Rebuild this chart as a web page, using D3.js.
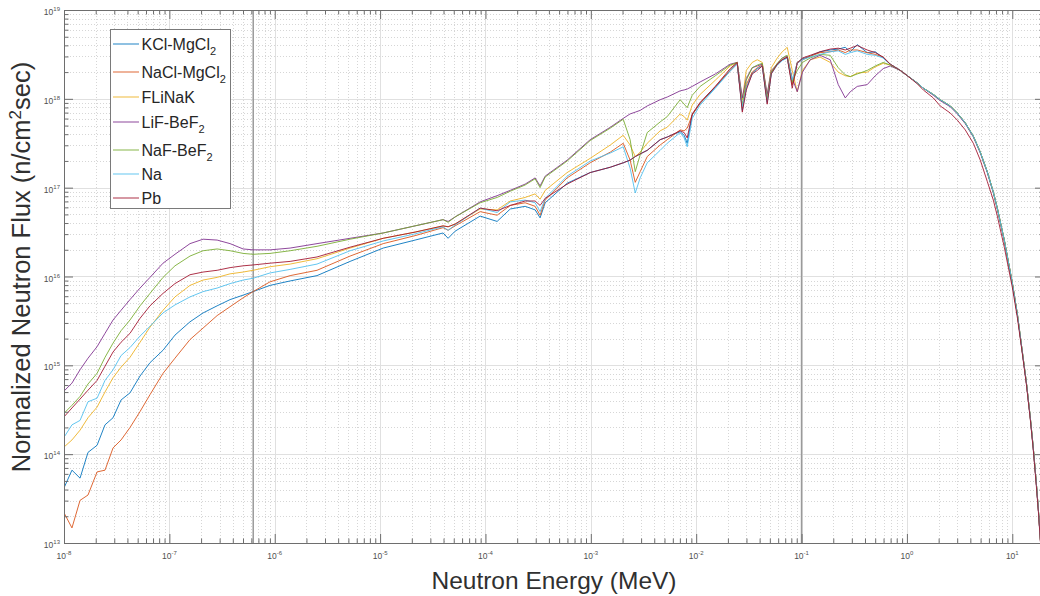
<!DOCTYPE html>
<html><head><meta charset="utf-8">
<script src="https://cdn.jsdelivr.net/npm/d3@7"></script>
<style>body{margin:0;background:#fff}svg{display:block}</style>
</head><body>
<svg id="chart" width="1040" height="596"></svg>
<script>
// ---------- DATA ----------
// Neutron energy grid, MeV
const energyMeV = [
  1e-8, 1.19e-8, 1.42e-8, 1.69e-8, 2.06e-8, 2.45e-8, 2.92e-8, 3.48e-8, 4.23e-8, 5.27e-8,
  6.55e-8, 8.71e-8, 1.13e-7, 1.57e-7, 2.09e-7, 2.84e-7, 3.77e-7, 5.01e-7, 6.23e-7, 9.03e-7,
  1.40e-6, 2.52e-6, 5.19e-6, 1.07e-5, 2.15e-5, 3.96e-5, 4.42e-5, 5.15e-5, 8.90e-5, 1.29e-4,
  1.72e-4, 2.38e-4, 2.96e-4, 3.30e-4, 3.69e-4, 5.96e-4, 9.86e-4, 1.53e-3, 2.03e-3, 2.36e-3,
  2.64e-3, 2.94e-3, 3.43e-3, 4.55e-3, 5.31e-3, 7.05e-3, 7.69e-3, 8.22e-3, 9.17e-3, 1.09e-2,
  1.52e-2, 2.10e-2, 2.45e-2, 2.74e-2, 2.99e-2, 3.40e-2, 3.80e-2, 4.24e-2, 4.72e-2, 5.16e-2,
  5.88e-2, 6.56e-2, 7.31e-2, 8.16e-2, 9.10e-2, 0.102, 0.121, 0.150, 0.187, 0.223,
  0.260, 0.290, 0.338, 0.420, 0.501, 0.596, 0.695, 0.865, 1.01, 1.25,
  1.43, 1.78, 2.07, 2.58, 3.01, 3.58, 4.27, 4.97, 5.79, 6.61,
  7.21, 8.40, 10.0, 11.2, 12.4, 13.6, 14.8, 15.8, 16.9, 17.7,
  18.5
];
// log10 of normalized flux (n/cm^2 sec) for each material, same order as energyMeV
const fluxExpKCl = [
  13.62, 13.82, 13.73, 14.02, 14.10, 14.33, 14.41, 14.61, 14.69, 14.88,
  15.03, 15.17, 15.34, 15.49, 15.59, 15.67, 15.74, 15.79, 15.83, 15.90,
  15.95, 16.01, 16.17, 16.32, 16.41, 16.49, 16.43, 16.51, 16.68, 16.62,
  16.76, 16.79, 16.75, 16.66, 16.83, 17.05, 17.17, 17.23, 17.28, 17.31,
  17.35, 17.38, 17.42, 17.54, 17.57, 17.63, 17.59, 17.50, 17.82, 17.95,
  18.13, 18.32, 18.40, 17.87, 18.12, 18.29, 18.34, 18.37, 17.96, 18.29,
  18.39, 18.44, 18.46, 18.16, 18.41, 18.45, 18.48, 18.53, 18.55, 18.56,
  18.58, 18.53, 18.61, 18.52, 18.53, 18.46, 18.39, 18.32, 18.26, 18.18,
  18.12, 18.05, 17.99, 17.92, 17.84, 17.73, 17.58, 17.40, 17.18, 16.95,
  16.77, 16.41, 15.93, 15.57, 15.17, 14.81, 14.42, 14.08, 13.68, 13.37,
  13.03
];
const fluxExpNaCl = [
  13.34, 13.17, 13.48, 13.54, 13.80, 13.82, 14.07, 14.16, 14.30, 14.48,
  14.67, 14.91, 15.08, 15.29, 15.42, 15.56, 15.66, 15.76, 15.83, 15.94,
  16.01, 16.07, 16.23, 16.37, 16.46, 16.55, 16.52, 16.57, 16.73, 16.69,
  16.80, 16.83, 16.79, 16.69, 16.86, 17.11, 17.28, 17.40, 17.50, 17.31,
  17.06, 17.18, 17.35, 17.48, 17.54, 17.65, 17.64, 17.67, 17.82, 17.95,
  18.14, 18.32, 18.40, 17.90, 18.16, 18.30, 18.35, 18.38, 17.99, 18.30,
  18.39, 18.44, 18.47, 18.16, 18.41, 18.44, 18.48, 18.52, 18.53, 18.55,
  18.52, 18.55, 18.55, 18.52, 18.50, 18.47, 18.39, 18.32, 18.26, 18.18,
  18.12, 18.05, 17.99, 17.92, 17.84, 17.73, 17.58, 17.40, 17.18, 16.95,
  16.77, 16.41, 15.93, 15.57, 15.17, 14.81, 14.42, 14.08, 13.68, 13.37,
  13.03
];
const fluxExpFLiNaK = [
  14.08, 14.16, 14.27, 14.41, 14.53, 14.70, 14.86, 14.98, 15.09, 15.26,
  15.43, 15.62, 15.77, 15.90, 15.96, 15.99, 16.03, 16.05, 16.07, 16.11,
  16.14, 16.20, 16.32, 16.43, 16.50, 16.57, 16.56, 16.59, 16.76, 16.75,
  16.85, 16.89, 16.93, 16.87, 16.97, 17.17, 17.33, 17.48, 17.59, 17.48,
  17.35, 17.40, 17.50, 17.64, 17.68, 17.83, 17.80, 17.76, 17.93, 18.05,
  18.21, 18.37, 18.41, 17.99, 18.32, 18.41, 18.44, 18.41, 18.03, 18.35,
  18.46, 18.53, 18.58, 18.32, 18.08, 18.32, 18.44, 18.47, 18.41, 18.30,
  18.26, 18.25, 18.29, 18.30, 18.36, 18.40, 18.38, 18.32, 18.26, 18.18,
  18.12, 18.05, 17.99, 17.92, 17.84, 17.73, 17.58, 17.40, 17.18, 16.95,
  16.77, 16.41, 15.93, 15.57, 15.17, 14.81, 14.42, 14.08, 13.68, 13.37,
  13.03
];
const fluxExpLiFBeF = [
  14.71, 14.80, 14.95, 15.08, 15.21, 15.36, 15.51, 15.62, 15.74, 15.87,
  15.99, 16.15, 16.25, 16.37, 16.42, 16.41, 16.37, 16.31, 16.30, 16.30,
  16.32, 16.37, 16.43, 16.49, 16.57, 16.64, 16.62, 16.67, 16.84, 16.91,
  16.97, 17.04, 17.11, 17.02, 17.13, 17.31, 17.54, 17.68, 17.78, 17.83,
  17.85, 17.87, 17.92, 17.99, 18.02, 18.09, 18.10, 18.11, 18.14, 18.19,
  18.28, 18.39, 18.41, 18.01, 18.23, 18.35, 18.37, 18.39, 18.05, 18.32,
  18.39, 18.46, 18.48, 18.23, 18.08, 18.30, 18.44, 18.49, 18.44, 18.16,
  18.01, 18.08, 18.14, 18.16, 18.26, 18.34, 18.37, 18.32, 18.26, 18.18,
  18.12, 18.04, 17.98, 17.91, 17.83, 17.72, 17.57, 17.39, 17.17, 16.94,
  16.76, 16.40, 15.92, 15.56, 15.16, 14.80, 14.41, 14.07, 13.67, 13.36,
  13.02
];
const fluxExpNaFBeF = [
  14.46, 14.55, 14.65, 14.79, 14.91, 15.09, 15.25, 15.39, 15.51, 15.67,
  15.81, 15.99, 16.12, 16.23, 16.29, 16.31, 16.29, 16.26, 16.25, 16.26,
  16.29, 16.34, 16.42, 16.49, 16.57, 16.64, 16.61, 16.67, 16.83, 16.89,
  16.96, 17.03, 17.10, 17.00, 17.12, 17.30, 17.53, 17.67, 17.77, 17.54,
  17.18, 17.37, 17.62, 17.74, 17.80, 17.99, 17.94, 17.90, 18.04, 18.14,
  18.26, 18.38, 18.41, 17.93, 18.21, 18.35, 18.38, 18.40, 17.99, 18.30,
  18.40, 18.46, 18.49, 18.19, 18.32, 18.41, 18.46, 18.50, 18.49, 18.35,
  18.27, 18.25, 18.28, 18.32, 18.37, 18.41, 18.38, 18.32, 18.26, 18.18,
  18.12, 18.05, 17.99, 17.92, 17.84, 17.73, 17.58, 17.40, 17.18, 16.95,
  16.77, 16.41, 15.93, 15.57, 15.17, 14.81, 14.42, 14.08, 13.68, 13.37,
  13.03
];
const fluxExpNa = [
  14.19, 14.33, 14.38, 14.59, 14.63, 14.83, 14.95, 15.11, 15.20, 15.33,
  15.44, 15.59, 15.68, 15.77, 15.83, 15.87, 15.92, 15.96, 15.98, 16.04,
  16.08, 16.14, 16.29, 16.40, 16.48, 16.56, 16.52, 16.58, 16.77, 16.72,
  16.84, 16.86, 16.83, 16.73, 16.88, 17.13, 17.30, 17.39, 17.46, 17.22,
  16.94, 17.11, 17.28, 17.42, 17.50, 17.62, 17.56, 17.46, 17.78, 17.93,
  18.12, 18.31, 18.39, 17.91, 18.12, 18.28, 18.34, 18.37, 17.96, 18.28,
  18.38, 18.43, 18.46, 18.21, 18.40, 18.44, 18.47, 18.50, 18.53, 18.54,
  18.50, 18.52, 18.54, 18.50, 18.49, 18.46, 18.39, 18.32, 18.26, 18.18,
  18.12, 18.05, 17.99, 17.92, 17.84, 17.73, 17.58, 17.40, 17.18, 16.95,
  16.77, 16.41, 15.93, 15.57, 15.17, 14.81, 14.42, 14.08, 13.68, 13.37,
  13.03
];
const fluxExpPb = [
  14.42, 14.52, 14.62, 14.72, 14.83, 14.99, 15.15, 15.26, 15.36, 15.53,
  15.67, 15.81, 15.92, 16.02, 16.05, 16.07, 16.10, 16.12, 16.13, 16.15,
  16.17, 16.22, 16.33, 16.43, 16.50, 16.57, 16.56, 16.59, 16.77, 16.74,
  16.80, 16.85, 16.85, 16.80, 16.88, 17.04, 17.17, 17.23, 17.28, 17.31,
  17.35, 17.38, 17.42, 17.54, 17.57, 17.64, 17.62, 17.56, 17.83, 17.96,
  18.14, 18.34, 18.41, 17.85, 18.10, 18.28, 18.32, 18.37, 17.94, 18.28,
  18.39, 18.44, 18.47, 18.12, 18.40, 18.46, 18.49, 18.53, 18.56, 18.57,
  18.55, 18.57, 18.60, 18.55, 18.52, 18.47, 18.39, 18.32, 18.26, 18.17,
  18.10, 18.01, 17.92, 17.84, 17.76, 17.65, 17.50, 17.31, 17.07, 16.86,
  16.68, 16.33, 15.88, 15.53, 15.15, 14.79, 14.40, 14.06, 13.65, 13.35,
  13.01
];
const seriesLabels = ["KCl-MgCl2", "NaCl-MgCl2", "FLiNaK", "LiF-BeF2", "NaF-BeF2", "Na", "Pb"];
const seriesColors = ["#0072BD", "#D95319", "#EDB120", "#7E2F8E", "#77AC30", "#4DBEEE", "#A2142F"];
const seriesData = [fluxExpKCl, fluxExpNaCl, fluxExpFLiNaK, fluxExpLiFBeF, fluxExpNaFBeF, fluxExpNa, fluxExpPb];
const markerEnergies = [6.25e-7, 0.1];      // vertical reference lines (MeV)
const xTickExps = [-8, -7, -6, -5, -4, -3, -2, -1, 0, 1];
const yTickExps = [13, 14, 15, 16, 17, 18, 19];
const xDomain = [1e-8, 20];
const yDomain = [1e13, 1e19];

// ---------- LAYOUT ----------
const W = 1040, H = 596;
const P = {l: 64, t: 10, r: 1044, b: 543};
const FONT = "'Liberation Sans', Arial, Helvetica, sans-serif";
const svg = d3.select("#chart");
svg.append("rect").attr("width", W).attr("height", H).attr("fill", "#fff");

const x = d3.scaleLog().domain(xDomain).range([P.l, P.r]);
const y = d3.scaleLog().domain(yDomain).range([P.b, P.t]);

svg.append("defs").append("clipPath").attr("id", "plotclip")
  .append("rect").attr("x", P.l).attr("y", P.t).attr("width", P.r - P.l).attr("height", P.b - P.t);

// minor tick values
const xMinor = [];
for (let e = xTickExps[0]; e <= 1; e++) for (let k = 2; k <= 9; k++) { const v = k * Math.pow(10, e); if (v <= xDomain[1] * 1.0001) xMinor.push(v); }
const yMinor = [];
for (let e = 13; e < 19; e++) for (let k = 2; k <= 9; k++) yMinor.push(k * Math.pow(10, e));
const xMajor = xTickExps.map(e => Math.pow(10, e));
const yMajor = yTickExps.map(e => Math.pow(10, e));

// grid
const grid = svg.append("g");
grid.selectAll(".gxm").data(xMinor).join("line")
  .attr("x1", d => Math.round(x(d)) + 0.5).attr("x2", d => Math.round(x(d)) + 0.5)
  .attr("y1", P.t).attr("y2", P.b).attr("stroke", "#d6d6d6").attr("stroke-dasharray", "1,2");
grid.selectAll(".gym").data(yMinor).join("line")
  .attr("y1", d => Math.round(y(d)) + 0.5).attr("y2", d => Math.round(y(d)) + 0.5)
  .attr("x1", P.l).attr("x2", P.r).attr("stroke", "#d6d6d6").attr("stroke-dasharray", "1,2");
grid.selectAll(".gxM").data(xMajor).join("line")
  .attr("x1", d => Math.round(x(d)) + 0.5).attr("x2", d => Math.round(x(d)) + 0.5)
  .attr("y1", P.t).attr("y2", P.b).attr("stroke", "#e0e0e0");
grid.selectAll(".gyM").data(yMajor).join("line")
  .attr("y1", d => Math.round(y(d)) + 0.5).attr("y2", d => Math.round(y(d)) + 0.5)
  .attr("x1", P.l).attr("x2", P.r).attr("stroke", "#e0e0e0");

// vertical reference lines
svg.append("g").selectAll("line").data(markerEnergies).join("line")
  .attr("x1", d => x(d)).attr("x2", d => x(d)).attr("y1", P.t).attr("y2", P.b)
  .attr("stroke", "#9a9a9a").attr("stroke-width", 1.5);

// curves
const line = d3.line().x((d, i) => x(energyMeV[i])).y(d => y(Math.pow(10, d)));
const curves = svg.append("g").attr("clip-path", "url(#plotclip)");
seriesData.forEach((s, i) => {
  curves.append("path").attr("d", line(s)).attr("fill", "none")
    .attr("stroke", seriesColors[i]).attr("stroke-width", 1).attr("stroke-opacity", 0.88)
    .attr("stroke-linejoin", "round");
});

// axes (inward ticks) via d3 axes
function styleAxis(g) {
  g.select(".domain").attr("stroke", "#6e6e6e");
  g.selectAll(".tick line").attr("stroke", "#6e6e6e");
}
const axB = svg.append("g").attr("transform", `translate(0,${P.b})`)
  .call(d3.axisBottom(x).tickValues(xMajor).tickSizeInner(-9).tickSizeOuter(0).tickFormat(""));
const axT = svg.append("g").attr("transform", `translate(0,${P.t})`)
  .call(d3.axisTop(x).tickValues(xMajor).tickSizeInner(-9).tickSizeOuter(0).tickFormat(""));
const axL = svg.append("g").attr("transform", `translate(${P.l},0)`)
  .call(d3.axisLeft(y).tickValues(yMajor).tickSizeInner(-9).tickSizeOuter(0).tickFormat(""));
const axR = svg.append("g").attr("transform", `translate(${P.r},0)`)
  .call(d3.axisRight(y).tickValues(yMajor).tickSizeInner(-9).tickSizeOuter(0).tickFormat(""));
[axB, axT, axL, axR].forEach(styleAxis);
// minor ticks
[[d3.axisBottom(x), P.b], [d3.axisTop(x), P.t]].forEach(([a, pos]) => {
  const g = svg.append("g").attr("transform", `translate(0,${pos})`)
    .call(a.tickValues(xMinor).tickSizeInner(-4.5).tickSizeOuter(0).tickFormat(""));
  g.select(".domain").remove(); g.selectAll(".tick line").attr("stroke", "#6e6e6e");
});
[[d3.axisLeft(y), P.l], [d3.axisRight(y), P.r]].forEach(([a, pos]) => {
  const g = svg.append("g").attr("transform", `translate(${pos},0)`)
    .call(a.tickValues(yMinor).tickSizeInner(-4.5).tickSizeOuter(0).tickFormat(""));
  g.select(".domain").remove(); g.selectAll(".tick line").attr("stroke", "#6e6e6e");
});

// tick labels 10^n
const labG = svg.append("g").attr("font-family", FONT).attr("fill", "#505050");
xTickExps.forEach(e => {
  const t = labG.append("text").attr("x", x(Math.pow(10, e))).attr("y", P.b + 16)
    .attr("text-anchor", "middle").attr("font-size", 8.5);
  t.append("tspan").text("10");
  t.append("tspan").attr("font-size", 6).attr("dy", -4).text(String(e));
});
yTickExps.forEach(e => {
  const t = labG.append("text").attr("x", 60).attr("y", y(Math.pow(10, e)) + 5)
    .attr("text-anchor", "end").attr("font-size", 8.5);
  t.append("tspan").text("10");
  t.append("tspan").attr("font-size", 6).attr("dy", -4).text(String(e));
});

// axis titles
svg.append("text").attr("x", (P.l + P.r) / 2).attr("y", 589).attr("text-anchor", "middle")
  .attr("font-family", FONT).attr("font-size", 24.5).attr("fill", "#303030").text("Neutron Energy (MeV)");
const yt = svg.append("text").attr("transform", "translate(30,267) rotate(-90)").attr("text-anchor", "middle")
  .attr("font-family", FONT).attr("font-size", 25.5).attr("fill", "#303030");
yt.append("tspan").text("Normalized Neutron Flux (n/cm");
yt.append("tspan").attr("font-size", 17).attr("dy", -9).text("2");
yt.append("tspan").attr("dy", 9).text("sec)");

// legend
const legendRowY = [44, 72, 97, 122, 150, 174, 198];
const lg = svg.append("g").attr("font-family", FONT);
lg.append("rect").attr("x", 110.5).attr("y", 29.5).attr("width", 120).attr("height", 179)
  .attr("fill", "#fff").attr("stroke", "#7a7a7a");
seriesLabels.forEach((lab, i) => {
  const yy = legendRowY[i];
  lg.append("line").attr("x1", 113).attr("x2", 139).attr("y1", yy).attr("y2", yy)
    .attr("stroke", seriesColors[i]).attr("stroke-width", 1).attr("stroke-opacity", 0.88);
  const m = lab.match(/^(.*?)(\d)$/);
  const t = lg.append("text").attr("x", 141.5).attr("y", yy + 5.5).attr("font-size", 16).attr("fill", "#262626");
  if (m) {
    t.append("tspan").text(m[1]);
    t.append("tspan").attr("font-size", 11).attr("dy", 5).text(m[2]);
  } else t.text(lab);
});
</script>
</body></html>
